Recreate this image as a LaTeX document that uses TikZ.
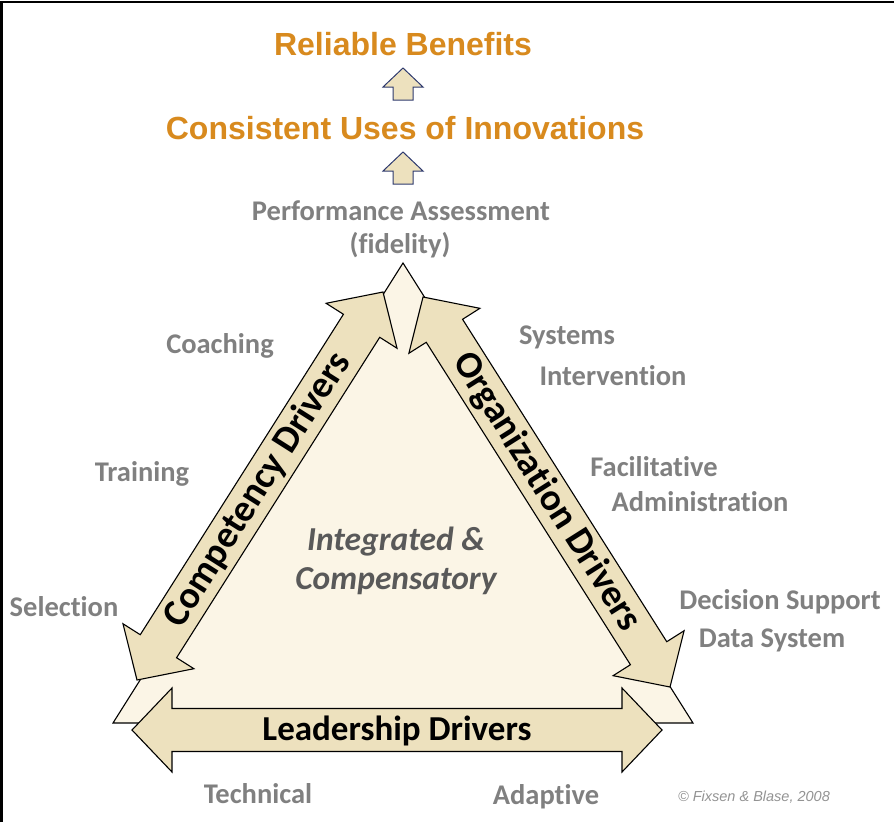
\documentclass[tikz,border=0pt]{standalone}
\usepackage{fontspec}
\setmainfont{Carlito}[Ligatures=CommonOff]
\newfontfamily\arialfont{Liberation Sans}
\usetikzlibrary{calc, positioning}

\definecolor{drvtan}{HTML}{EDE1BE}
\definecolor{drvcream}{HTML}{FBF5E6}
\definecolor{lblgray}{HTML}{808080}
\definecolor{midgray}{HTML}{595959}
\definecolor{outorange}{HTML}{D88A1E}
\definecolor{upnavy}{HTML}{2E3A6E}

\tikzset{
    drvarrow/.style={draw=black, fill=drvtan, line width=1.1pt, line join=miter},
    drvtext/.style={font=\bfseries\fontsize{38}{42}\selectfont, text=black},
    lbl/.style={font=\bfseries\fontsize{28.5}{32}\selectfont, text=lblgray},
    outcome/.style={font=\arialfont\bfseries\fontsize{32}{36}\selectfont, text=outorange},
    uparrow/.style={draw=upnavy, fill=drvtan, line width=1pt, line join=miter},
}

% double headed block arrow from tip #1 to tip #2
\newcommand{\blockarrow}[2]{%
    \coordinate (h1) at ($(#1)!\headlen pt!(#2)$);
    \coordinate (h2) at ($(#2)!\headlen pt!(#1)$);
    \draw[drvarrow] (#1) -- ($(h1)!\headw pt!90:(#2)$) -- ($(h1)!\shaftw pt!90:(#2)$)
        -- ($(h2)!\shaftw pt!-90:(#1)$) -- ($(h2)!\headw pt!-90:(#1)$) -- (#2)
        -- ($(h2)!\headw pt!90:(#1)$) -- ($(h2)!\shaftw pt!90:(#1)$)
        -- ($(h1)!\shaftw pt!-90:(#2)$) -- ($(h1)!\headw pt!-90:(#2)$) -- cycle;
}

\begin{document}
\begin{tikzpicture}[x=1pt, y=-1pt]
        \useasboundingbox (0,0) rectangle (894,822);
        \pgfmathsetmacro{\headlen}{40}
        \pgfmathsetmacro{\headw}{42}
        \pgfmathsetmacro{\shaftw}{21.5}

        % frame
        \draw[line width=2.5pt] (1.5,822) -- (1.5,2) -- (894,2);

        % big triangle
        \coordinate (A) at (403, 263);
        \coordinate (B) at (113, 723);
        \coordinate (C) at (693, 723);
        \draw[fill=drvcream, line width=1.1pt] (A) -- (B) -- (C) -- cycle;

        % driver arrows
        \coordinate (LB) at (137, 680);
        \coordinate (LT) at (383, 292);
        \coordinate (RT) at (423, 297);
        \coordinate (RB) at (670, 687);
        \coordinate (BL) at (132, 730);
        \coordinate (BR) at (662, 730);
        \blockarrow{LB}{LT}
        \blockarrow{RT}{RB}
        \blockarrow{BL}{BR}

        \path (LB) -- (LT) node[pos=0.49, sloped, drvtext] (comp) {Competency Drivers};
        \path (RT) -- (RB) node[pos=0.5, sloped, drvtext] (org) {Organization Drivers};
        \node[drvtext, font=\bfseries\fontsize{35}{40}\selectfont] (lead) at (397, 731) {Leadership Drivers};

        \node[font=\bfseries\itshape\fontsize{33.5}{39}\selectfont, text=midgray, align=center]
            (integ) at (396, 561) {Integrated \&\\Compensatory};

        % outcomes on top
        \node[outcome] (benefits) at (403, 44) {Reliable Benefits};
        \node[outcome] (uses) at (405, 128) {Consistent Uses of Innovations};
        \node[lbl] (perf) at (401, 211) {Performance Assessment};
        \node[lbl] (fid) at (400, 245) {(fidelity)};

        \coordinate (up1) at (403, 68);
        \coordinate (up2) at (403, 152);
        \foreach \u in {up1, up2} {
            \draw[uparrow] (\u) -- ++(20, 19) -- ++(-10, 0) -- ++(0, 13) -- ++(-20, 0)
                -- ++(0, -13) -- ++(-10, 0) -- cycle;
        }

        % drivers
        \node[lbl] (coach) at (220, 346) {Coaching};
        \node[lbl] (train) at (142, 474) {Training};
        \node[lbl] (select) at (64, 607) {Selection};
        \node[lbl] (sys) at (567, 337) {Systems};
        \node[lbl] (interv) at (613, 376) {Intervention};
        \node[lbl] (facil) at (654, 467) {Facilitative};
        \node[lbl] (admin) at (700, 502) {Administration};
        \node[lbl] (dec) at (780, 602) {Decision Support};
        \node[lbl] (data) at (772, 640) {Data System};
        \node[lbl] (tech) at (258, 794) {Technical};
        \node[lbl] (adapt) at (546, 797) {Adaptive};

        \node[font=\arialfont\itshape\fontsize{14.5}{16}\selectfont, text=lblgray!85]
            (copy) at (754, 797) {© Fixsen \& Blase, 2008};

    \end{tikzpicture}
\end{document}
